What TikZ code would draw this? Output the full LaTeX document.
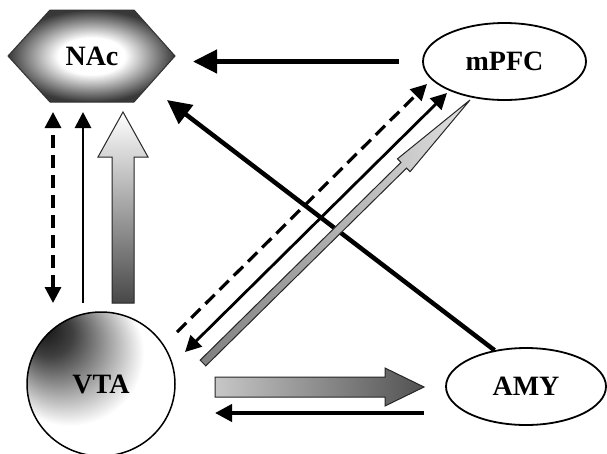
\documentclass[tikz,border=0pt]{standalone}
\usepackage{fontspec}
\setmainfont{Liberation Serif}
\usetikzlibrary{arrows.meta,shapes.geometric}
\pgfdeclareradialshading{nacshade}{\pgfpoint{0bp}{0bp}}{color(0bp)=(white); color(10bp)=(white); color(25bp)=(black!78); color(50bp)=(black!78)}
\pgfdeclareradialshading{vtashade}{\pgfpoint{-21bp}{21bp}}{color(0bp)=(black!95); color(8bp)=(black!75); color(17bp)=(black!35); color(25bp)=(white); color(50bp)=(white)}
\tikzset{
  bigtip/.tip={Triangle[length=24pt,width=23pt]},
  midtip/.tip={Triangle[length=17pt,width=17pt]},
  smalltip/.tip={Triangle[length=16pt,width=16pt]},
}
\begin{document}
\begin{tikzpicture}[x=1pt,y=-1pt,
  lbl/.style={font=\fontsize{28}{28}\selectfont\bfseries},
  region/.style={draw=black, line width=1.8pt, fill=white, ellipse, inner sep=0pt, lbl},
  bigarrow/.style={line width=4.5pt, -bigtip},
  thinline/.style={line width=2.8pt},
  dashline/.style={line width=3.2pt, dash pattern=on 13pt off 7pt},
  blockarrow/.style={draw=black!85, line width=1pt, line join=miter},
]
\fill[white] (0,0) rectangle (607,453);
\useasboundingbox (0,0) rectangle (607,453);

% ---- regions ----
\shade[shading=nacshade, draw=black!80, line width=1pt]
  (8,56) -- (50,10) -- (134,10) -- (175,56) -- (134,102) -- (50,102) -- cycle;
\node[lbl] (nac) at (92,56) {NAc};

\node[region, minimum width=163pt, minimum height=77pt] (mpfc) at (504.5,61.5) {mPFC};
\node[region, minimum width=160pt, minimum height=77pt] (amy) at (526,386.5) {AMY};
\node[draw=black, line width=1.5pt, ellipse, inner sep=0pt, lbl,
      minimum width=148pt, minimum height=144pt, shading=vtashade]
      (vta) at (101,384) {VTA};

% ---- connector end points ----
\coordinate (nacR) at (193,61.5);
\coordinate (nacB) at (167,100);
\coordinate (dashTop) at (53,112);
\coordinate (dashBot) at (53,303);
\coordinate (solTop) at (83,112);
\coordinate (solBot) at (83,303);
\coordinate (ddA) at (177,332);
\coordinate (ddB) at (427,84);
\coordinate (sdA) at (185,352);
\coordinate (sdB) at (447,93);
\coordinate (amyL) at (424,413);
\coordinate (vtaR) at (215,413);

% ---- connectors ----
\draw[bigarrow, shorten <=23pt] (mpfc.west) -- (nacR);
\draw[bigarrow] (amy.131) -- (nacB);
\draw[dashline, smalltip-smalltip] (dashBot) -- (dashTop);
\draw[thinline, -smalltip] (solBot) -- (solTop);
\draw[dashline, -smalltip] (ddA) -- (ddB);
\draw[thinline, smalltip-smalltip] (sdA) -- (sdB);
\draw[line width=4pt, -midtip] (amyL) -- (vtaR);

% ---- block arrows ----
\shade[blockarrow, top color=white, bottom color=black!72]
  (112,303) -- (112,157) -- (98,157) -- (123,112) -- (148,157) -- (134,157) -- (134,303) -- cycle;
\shade[blockarrow, left color=black!22, right color=black!68]
  (215,377) -- (385,377) -- (385,368) -- (424,387) -- (385,406) -- (385,397) -- (215,397) -- cycle;
\shade[blockarrow, left color=black!50, right color=black!12]
  (200.2,360.15) -- (400.94,162.41) -- (397.43,158.85) -- (470,100) -- (410.07,171.67) -- (406.56,168.11) -- (205.8,365.85) -- cycle;
\end{tikzpicture}
\end{document}
